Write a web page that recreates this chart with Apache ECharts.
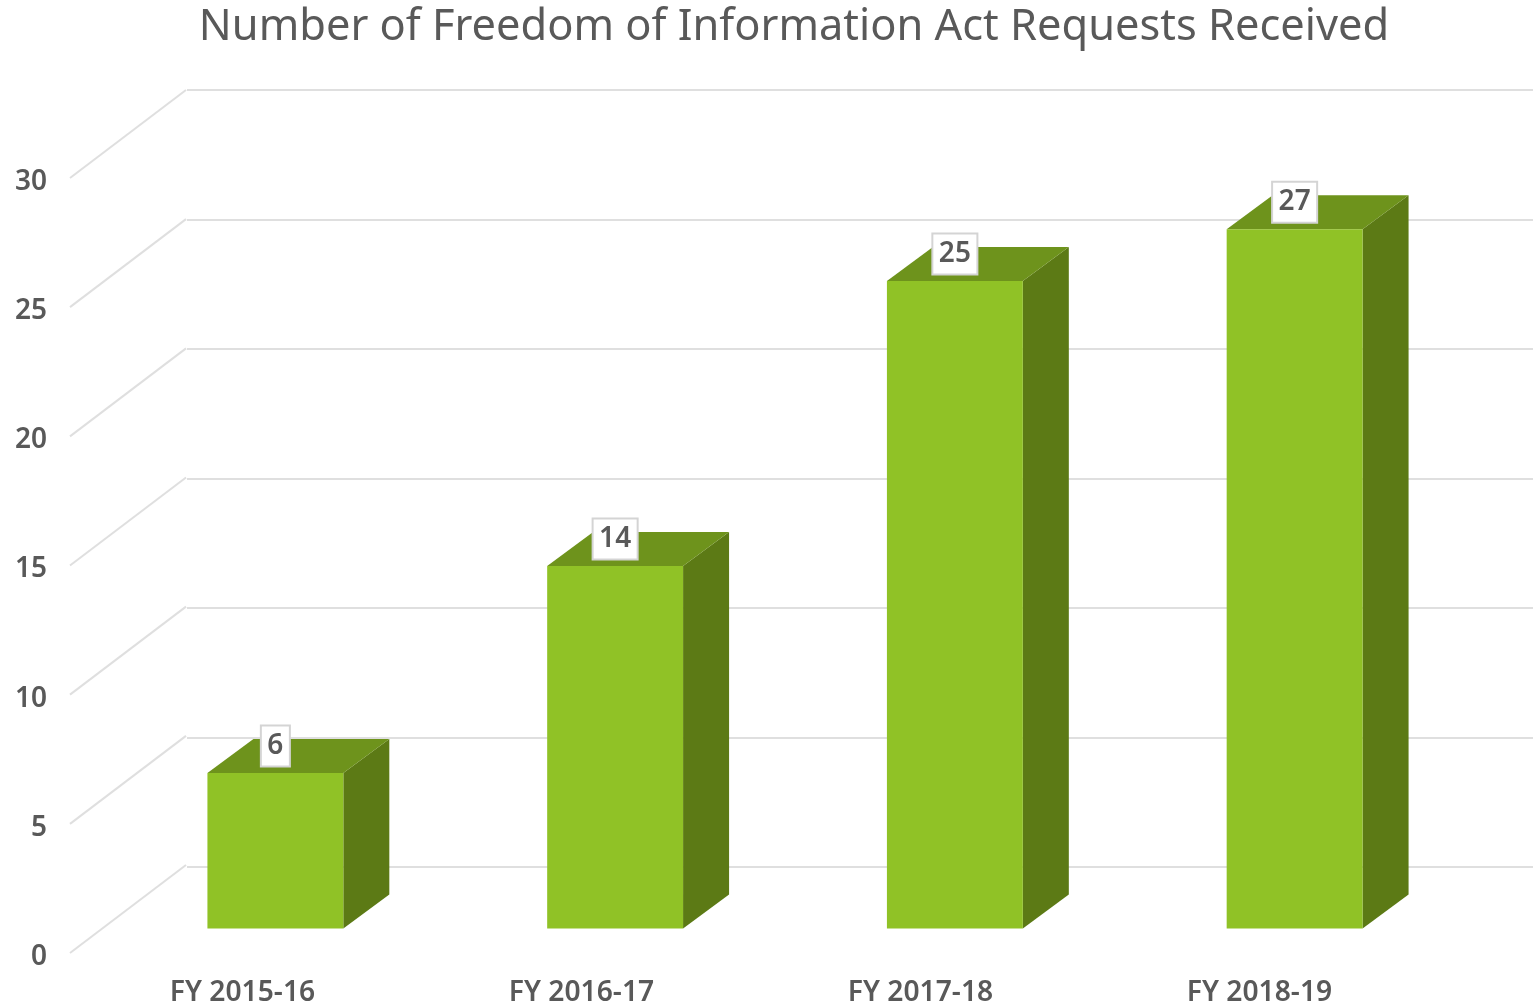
<!DOCTYPE html>
<html>
<head>
<meta charset="utf-8">
<title>FOIA requests</title>
<style>
  html, body { margin: 0; padding: 0; background: #fff; }
  #main { width: 1533px; height: 1007px; }
</style>
<script src="https://cdn.jsdelivr.net/npm/echarts@6/dist/echarts.min.js"></script>
</head>
<body>
<div id="main"></div>
<script>
var titleText = 'Number of Freedom of Information Act Requests Received';
var categories = ['FY 2015-16', 'FY 2016-17', 'FY 2017-18', 'FY 2018-19'];
var requestCounts = [6, 14, 25, 27];
var yTicks = [0, 5, 10, 15, 20, 25, 30];

var fontName = '"Noto Sans", sans-serif';
var textColor = '#595959';
var gridColor = '#dfdfdf';

var myChart = echarts.init(document.getElementById('main'));

// 3D look: three parallel planes, front (labels), bar plane, back wall
var option = {
  animation: false,
  backgroundColor: '#fff',
  title: {
    text: titleText,
    left: 789,
    top: 23,
    textAlign: 'center',
    textVerticalAlign: 'middle',
    textStyle: { fontFamily: fontName, fontSize: 43.4, fontWeight: 'normal', color: textColor }
  },
  grid: [
    { left: 73, top: 178, width: 1356, height: 777 },
    { left: 187, top: 90, width: 1346, height: 777 },
    { left: 105.5, top: 151.5, width: 1359, height: 777 }
  ],
  xAxis: [
    {
      gridIndex: 0, type: 'category', data: categories,
      axisLine: { show: false }, axisTick: { show: false },
      axisLabel: { margin: 26, fontFamily: fontName, fontSize: 28.2, fontWeight: 600, color: textColor }
    },
    { gridIndex: 1, type: 'category', data: categories, show: false },
    { gridIndex: 2, type: 'category', data: categories, show: false }
  ],
  yAxis: [
    {
      gridIndex: 0, type: 'value', min: 0, max: 30, interval: 5,
      axisLine: { show: false }, axisTick: { show: false }, splitLine: { show: false },
      // top + small lineHeight drops the digits level with the reference
      axisLabel: { margin: 26, verticalAlign: 'top', lineHeight: 8, fontFamily: fontName, fontSize: 28, fontWeight: 600, color: textColor }
    },
    {
      gridIndex: 1, type: 'value', min: 0, max: 30, interval: 5,
      axisLine: { show: false }, axisTick: { show: false }, axisLabel: { show: false },
      splitLine: { show: true, lineStyle: { color: gridColor, width: 2 } }
    },
    {
      gridIndex: 2, type: 'value', min: 0, max: 30, interval: 5, show: false,
      splitLine: { show: false }
    }
  ],
  series: [
    {
      // side wall diagonals
      type: 'custom',
      xAxisIndex: 0,
      yAxisIndex: 0,
      silent: true,
      data: yTicks,
      encode: { y: 0 },
      renderItem: function (params, api) {
        var p = api.coord([0, api.value(0)]);
        var x0 = params.coordSys.x - 3;
        return {
          type: 'line',
          shape: { x1: x0, y1: p[1], x2: x0 + 116, y2: p[1] - 88 },
          style: { stroke: gridColor, lineWidth: 2, fill: null }
        };
      }
    },
    {
      // the boxes
      type: 'custom',
      xAxisIndex: 2,
      yAxisIndex: 2,
      silent: true,
      z: 5,
      data: requestCounts.map(function (v, i) { return [i, v]; }),
      encode: { x: 0, y: 1 },
      renderItem: function (params, api) {
        var top = api.coord([api.value(0), api.value(1)]);
        var base = api.coord([api.value(0), 0]);
        var w = api.size([1, 0])[0] * 0.4;
        var l = top[0] - w / 2, r = top[0] + w / 2;
        var dx = 46, dy = -34;
        return {
          type: 'group',
          children: [
            {
              type: 'polygon',
              shape: { points: [[r, top[1]], [r + dx, top[1] + dy], [r + dx, base[1] + dy], [r, base[1]]] },
              style: { fill: '#5c7a15' }
            },
            {
              type: 'polygon',
              shape: { points: [[l, top[1]], [l + dx, top[1] + dy], [r + dx, top[1] + dy], [r, top[1]]] },
              style: { fill: '#6e931c' }
            },
            {
              type: 'rect',
              shape: { x: l, y: top[1], width: w, height: base[1] - top[1] },
              style: { fill: '#90c226' }
            },
            {
              type: 'text',
              style: {
                x: top[0],
                y: top[1] - 27,
                text: String(api.value(1)),
                align: 'center',
                verticalAlign: 'middle',
                fontFamily: fontName,
                fontSize: 28,
                fontWeight: 600,
                fill: textColor,
                backgroundColor: '#fff',
                borderColor: '#d4d4d4',
                borderWidth: 2,
                padding: [14, 5.5, -3, 5.5]
              }
            }
          ]
        };
      }
    }
  ]
};

myChart.setOption(option);
</script>
</body>
</html>
